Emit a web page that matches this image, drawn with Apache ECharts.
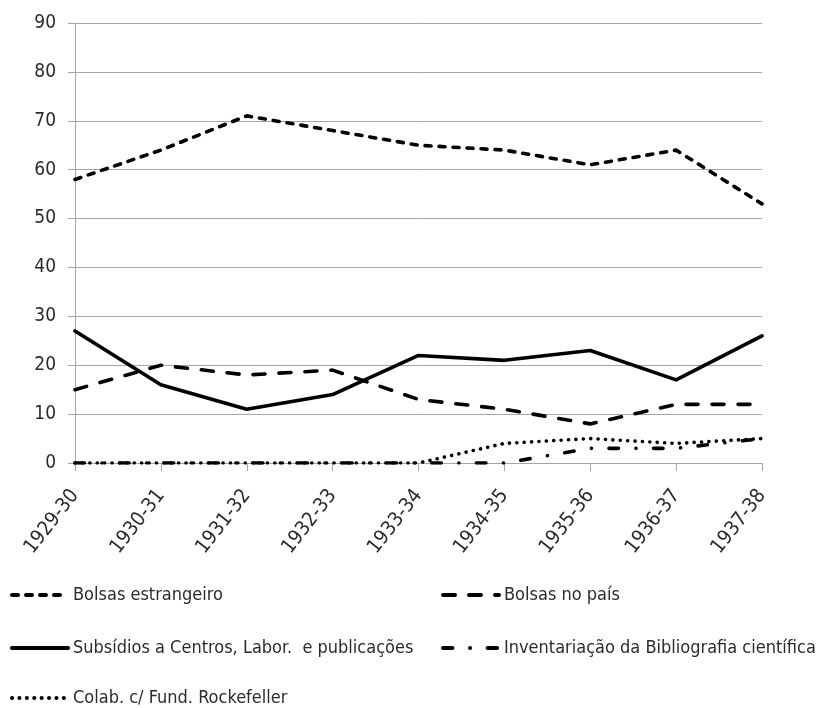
<!DOCTYPE html>
<html>
<head>
<meta charset="utf-8">
<script src="https://cdn.jsdelivr.net/npm/echarts@6/dist/echarts.min.js"></script>
<style>
  html, body { margin: 0; padding: 0; background: #fff; }
  #chart { width: 821px; height: 708px; }
</style>
</head>
<body>
<div id="chart"></div>
<script>
// Academic years on the category axis
const categories = ['1929-30', '1930-31', '1931-32', '1932-33', '1933-34', '1934-35', '1935-36', '1936-37', '1937-38'];

// Series values per year
const bolsasEstrangeiro = [58, 64, 71, 68, 65, 64, 61, 64, 53];
const bolsasNoPais = [15, 20, 18, 19, 13, 11, 8, 12, 12];
const subsidios = [27, 16, 11, 14, 22, 21, 23, 17, 26];
const inventariacao = [0, 0, 0, 0, 0, 0, 3, 3, 5];
const colabRockefeller = [0, 0, 0, 0, 0, 4, 5, 4, 5];

// Series names
const names = [
  'Bolsas estrangeiro',
  'Bolsas no país',
  'Subsídios a Centros, Labor.  e publicações',
  'Inventariação da Bibliografia científica',
  'Colab. c/ Fund. Rockefeller'
];

// Value axis range
const yMin = 0, yMax = 90, yStep = 10;

const FONT = '"Liberation Sans Narrow", "DejaVu Sans Condensed", "Open Sans", sans-serif';
const TEXT = '#2b2b2b';
const GRID = '#a6a6a6';

// Dash patterns for each series (drawn with round caps)
const dashes = [[6, 8], [12, 14], 'solid', [9.5, 17.5, 0.1, 17.5], [0.1, 7.3]];

function lineSeries(i, data) {
  return {
    name: names[i],
    type: 'line',
    data: data,
    symbol: 'none',
    smooth: false,
    animation: false,
    lineStyle: { color: '#000', width: 3.6, type: dashes[i], cap: 'round', join: 'round' },
    itemStyle: { color: '#000' }
  };
}

function legendAt(i, left, top) {
  return {
    data: [names[i]],
    left: left,
    top: top,
    orient: 'horizontal',
    itemWidth: 56,
    itemHeight: 14,
    padding: 0,
    selectedMode: false,
    itemStyle: { opacity: 0 },
    lineStyle: { color: '#000', width: 4, type: dashes[i], cap: 'round' },
    textStyle: { fontFamily: FONT, fontSize: 18, color: TEXT }
  };
}

const chart = echarts.init(document.getElementById('chart'), null, { renderer: 'canvas' });

chart.setOption({
  backgroundColor: '#fff',
  animation: false,
  textStyle: { fontFamily: FONT },
  grid: { left: 75, right: 59, top: 23, bottom: 245, containLabel: false },
  legend: [
    legendAt(0, 10, 586),
    legendAt(1, 441, 586),
    legendAt(2, 10, 639),
    legendAt(3, 441, 639),
    legendAt(4, 10, 689)
  ],
  xAxis: {
    type: 'category',
    data: categories,
    boundaryGap: false,
    axisLine: { show: true, lineStyle: { color: GRID, width: 1 } },
    axisTick: { show: true, alignWithLabel: true, length: 8, lineStyle: { color: GRID } },
    axisLabel: { rotate: 52, margin: 29, fontFamily: FONT, fontSize: 20, color: TEXT, interval: 0 },
    splitLine: { show: false }
  },
  yAxis: {
    type: 'value',
    min: yMin,
    max: yMax,
    interval: yStep,
    axisLine: { show: true, lineStyle: { color: GRID, width: 1 } },
    axisTick: { show: true, length: 7, lineStyle: { color: GRID } },
    axisLabel: { margin: 19, fontFamily: FONT, fontSize: 19, color: TEXT },
    splitLine: { show: true, lineStyle: { color: GRID, width: 1 } }
  },
  series: [
    lineSeries(0, bolsasEstrangeiro),
    lineSeries(1, bolsasNoPais),
    lineSeries(2, subsidios),
    lineSeries(3, inventariacao),
    lineSeries(4, colabRockefeller)
  ]
});
</script>
</body>
</html>
